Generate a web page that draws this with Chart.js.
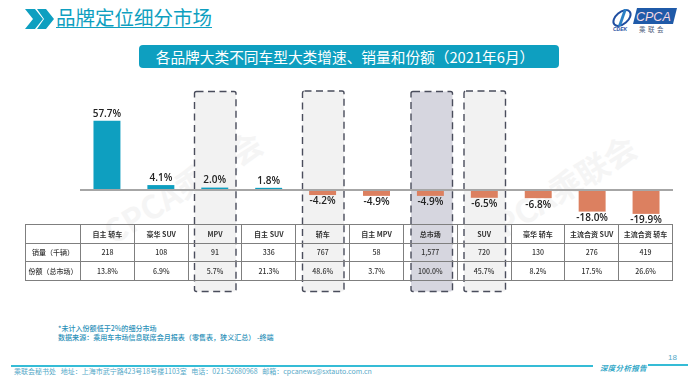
<!DOCTYPE html>
<html lang="zh">
<head>
<meta charset="UTF-8" />
<title>品牌定位细分市场</title>
<script src="https://cdn.jsdelivr.net/npm/chart.js"></script>
<style>
  html, body { margin: 0; padding: 0; background: #fff; }
  body { width: 699px; height: 384px; position: relative; overflow: hidden; font-family: "Noto Sans CJK SC", "Noto Sans", sans-serif; }
  body > * { position: absolute; }
  #heading { left: 56px; top: 4px; font-size: 19.5px; line-height: 26px; color: #0e9fc0; text-decoration: underline; text-underline-offset: 2px; text-decoration-thickness: 1px; white-space: nowrap; }
  #banner { left: 139px; top: 45px; width: 420px; height: 23px; border-radius: 4px; background: #0e9fc0; color: #fff; font-size: 14.7px; line-height: 23px; text-align: center; text-indent: -8px; white-space: nowrap; }
  .mark { font: bold 32px "Noto Sans CJK SC", sans-serif; color: #f5f5f5; white-space: nowrap; transform: translate(-50%, -50%) rotate(-32deg); }
  #chart { left: 80px; top: 100px; }
  #tbl { left: 25px; top: 224px; width: 648px; border-collapse: collapse; table-layout: fixed; font-size: 7px; color: #333; }
  #tbl td { border: 1px solid #7f7f7f; height: 17.5px; padding: 0; text-align: center; font-family: "Noto Sans CJK SC", sans-serif; font-weight: 500; white-space: nowrap; overflow: hidden; }
  #tbl tr:first-child td { font-weight: 700; }
  #notes { left: 58px; top: 323.5px; font-size: 7.05px; line-height: 9px; color: #2a90b8; font-weight: 500; white-space: nowrap; }
  #foot { left: 14px; top: 366px; font-size: 7px; line-height: 11px; color: #55a9c8; white-space: pre; }
  .rule { background: #35bcd6; height: 2px; }
  #report { left: 600px; top: 362px; font: italic bold 7.5px/11px "Noto Sans CJK SC", serif; color: #35a9c8; letter-spacing: .3px; white-space: nowrap; }
  #page { left: 668px; top: 352px; font: 8px/11px "Liberation Sans", sans-serif; color: #55a9c8; }
</style>
</head>
<body>
<svg style="left:24px;top:8px" width="31" height="23" viewBox="0 0 31 23">
  <polygon points="1,1 11,1 19,11 11,21 1,21 9,11" fill="#0e9fc0"/>
  <polygon points="13,1 22,1 30,11 22,21 13,21 20,11" fill="#0e9fc0"/>
</svg>
<div id="heading">品牌定位细分市场</div>

<svg style="left:611px;top:6px" width="68" height="27" viewBox="0 0 68 27">
  <ellipse cx="11" cy="12" rx="10" ry="6" fill="none" stroke="#1f4ea1" stroke-width="2" transform="rotate(-40 11 12)"/>
  <path d="M13 3 L16 3 L10 20 L7 20 Z" fill="#2b7fc4"/>
  <text x="2" y="25" font-family="Liberation Sans" font-size="5" font-weight="bold" font-style="italic" fill="#1f4ea1">CDEK</text>
  <polygon points="26,2 66,2 62,18 22,18" fill="#1f5aa8"/>
  <text x="25" y="15" font-family="Liberation Sans" font-size="12.5" font-style="italic" fill="#f3d9e2">CPCA</text>
  <text x="28" y="26" font-family="Noto Sans CJK SC" font-size="6.5" letter-spacing="2.5" fill="#51607c">乘联会</text>
</svg>

<div id="banner">各品牌大类不同车型大类增速、销量和份额（2021年6月）</div>

<div class="mark" style="left:182px;top:186px">CPCA乘联会</div>
<div class="mark" style="left:556px;top:190px">CPCA乘联会</div>

<svg style="left:0;top:0" width="699" height="384" fill="#f2f2f2" stroke="#4a4d5c" stroke-width="1.4" stroke-dasharray="7 4.5">
  <rect x="194.5" y="91.5" width="41.5" height="200" rx="2"/>
  <rect x="302.5" y="91" width="41.5" height="200.5" rx="2"/>
  <rect x="411" y="91.5" width="41.5" height="200" rx="2" fill="#d6d6df"/>
  <rect x="464" y="91" width="41.5" height="200.5" rx="2"/>
</svg>

<canvas id="chart" width="593" height="132"></canvas>
<table id="tbl"></table>

<div id="notes">*未计入份额低于2%的细分市场<br>数据来源：乘用车市场信息联席会月报表（零售表，狭义汇总） -终端</div>

<div class="rule" style="left:11px;top:365px;width:582px"></div>
<div id="foot">乘联会秘书处   地址：上海市武宁路423号18号楼1103室   电话：021-52680968   邮箱：cpcanews@sxtauto.com.cn</div>
<div id="report">深度分析报告</div>
<div class="rule" style="left:648px;top:364px;width:40px;height:1.5px"></div>
<div id="page">18</div>

<script>
const categories = ['自主 轿车', '豪华 SUV', 'MPV', '自主 SUV', '轿车', '自主 MPV', '总市场', 'SUV', '豪华 轿车', '主流合资 SUV', '主流合资 轿车'];
const growth = [57.7, 4.1, 2.0, 1.8, -4.2, -4.9, -4.9, -6.5, -6.8, -18.0, -19.9];
const sales = ['218', '108', '91', '336', '767', '58', '1,577', '720', '130', '276', '419'];
const share = ['13.8%', '6.9%', '5.7%', '21.3%', '48.6%', '3.7%', '100.0%', '45.7%', '8.2%', '17.5%', '26.6%'];
const rowNames = ['', '销量（千辆）', '份额（总市场）'];

// 表格
const rows = [categories, sales, share];
let html = '<colgroup><col style="width:55px">' + categories.map(() => '<col>').join('') + '</colgroup>';
rows.forEach((r, i) => {
  html += '<tr><td>' + rowNames[i] + '</td>' + r.map(v => '<td>' + v + '</td>').join('') + '</tr>';
});
document.getElementById('tbl').innerHTML = html;

// 柱子上方/下方的百分比
const valueLabels = {
  id: 'valueLabels',
  afterDatasetsDraw(chart) {
    const c = chart.ctx;
    c.save();
    c.font = '600 10px "Open Sans", sans-serif';
    c.fillStyle = '#222';
    c.textAlign = 'center';
    c.textBaseline = 'middle';
    chart.getDatasetMeta(0).data.forEach((bar, i) => {
      const v = growth[i];
      c.fillText(v.toFixed(1) + '%', bar.x, v >= 0 ? bar.y - 7 : bar.y + 6.5);
    });
    c.restore();
  }
};

new Chart(document.getElementById('chart').getContext('2d'), {
  type: 'bar',
  data: {
    labels: categories,
    datasets: [{
      data: growth,
      backgroundColor: growth.map(v => v >= 0 ? '#0e9fc0' : '#dc8060'),
      barPercentage: 0.5,
      categoryPercentage: 1
    }]
  },
  options: {
    responsive: false,
    animation: false,
    layout: { padding: 0 },
    plugins: { legend: { display: false }, tooltip: { enabled: false } },
    scales: {
      x: { display: false },
      y: {
        min: -35,
        max: 75,
        afterFit(s) { s.width = 0; },
        ticks: { display: false, stepSize: 25 },
        border: { display: false },
        grid: {
          drawTicks: false,
          lineWidth: 2,
          color: c => c.tick.value === 0 ? '#a6a6a6' : 'rgba(0,0,0,0)'
        }
      }
    }
  },
  plugins: [valueLabels]
});
</script>
</body>
</html>
